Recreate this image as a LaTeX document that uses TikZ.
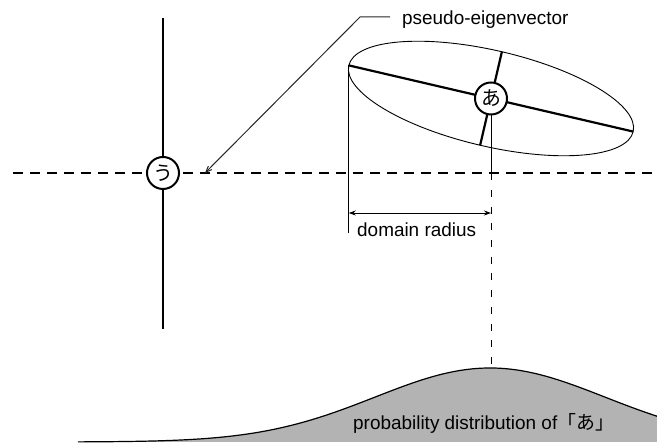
\documentclass[tikz,border=0pt]{standalone}
\usepackage{fontspec}
\setmainfont{Liberation Sans}
\newfontfamily\cjk{Noto Sans CJK JP}
\usetikzlibrary{arrows.meta}
\definecolor{FigureGray}{HTML}{B3B3B3}

\begin{document}
\begin{tikzpicture}[x=1bp,y=1bp,
  every node/.style={font=\fontsize{19}{22}\selectfont},
  kana/.style={circle,draw,line width=2bp,fill=white,minimum size=32bp,inner sep=0pt,font=\cjk\fontsize{20}{22}\selectfont},
  axisline/.style={line width=2.2bp},
  guide/.style={line width=0.9bp},
  dashline/.style={line width=2bp,dash pattern=on 9.5bp off 7.5bp},
  leader/.style={black!85,line width=1bp}]
  \useasboundingbox (0,0) rectangle (657,445);
  % distribution of a
  \fill[FigureGray] (78,3) -- plot[domain=78:657,samples=120] (\x,{3+74*exp(-0.5*((\x-490)/115)^2)}) -- (657,3) -- cycle;
  \draw[line width=1.2bp] plot[domain=78:657,samples=120] (\x,{3+74*exp(-0.5*((\x-490)/115)^2)});
  \node[anchor=base west,inner sep=0pt] (pd) at (353,15) {probability distribution of{\cjk「あ」}};
  % axis through u
  \coordinate (hl) at (13,272); \coordinate (hr) at (657,272);
  \coordinate (ut) at (163,427); \coordinate (ub) at (163,116);
  \draw[dashline] (hl) -- (hr); \draw[axisline] (ut) -- (ub);
  \node[kana] (u) at (163,272) {う};
  % ellipse of a
  \begin{scope}[shift={(491,346.5)},rotate=-13.1]
    \draw[guide] (0,0) ellipse (146 and 48);
    \coordinate (ml) at (-146,0); \coordinate (mr) at (146,0);
    \coordinate (nt) at (0,48); \coordinate (nb) at (0,-48);
  \end{scope}
  \draw[axisline] (ml) -- (mr); \draw[axisline] (nt) -- (nb);
  \node[kana] (a) at (491,346.5) {あ};
  % domain radius
  \coordinate (rl) at (ml |- 0,232); \coordinate (rr) at (a |- 0,232);
  \draw[guide] (ml) -- (ml |- 0,212);
  \draw[guide] (a) -- (a |- 0,265);
  \draw[guide,dash pattern=on 7bp off 9.7bp] (a |- 0,255) -- (a |- 0,81);
  \draw[guide,{Stealth[length=7bp,width=5bp]}-{Stealth[length=7bp,width=5bp]}] (rl) -- (rr);
  \node[anchor=base west,inner sep=0pt] (dr) at (357,208) {domain radius};
  % pseudo-eigenvector
  \node[anchor=base west,inner xsep=12bp,inner ysep=0pt] (pe) at (390,420) {pseudo-eigenvector};
  \coordinate (bend) at (360,428); \coordinate (tip) at (205,272);
  \draw[leader,-{Straight Barb[length=6bp,width=5bp]}] (pe.west |- bend) -- (bend) -- (tip);
\end{tikzpicture}
\end{document}
